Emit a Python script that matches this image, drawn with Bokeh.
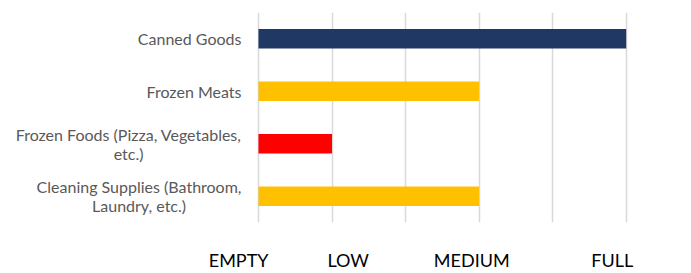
from bokeh.plotting import figure
from bokeh.models import ColumnDataSource, FactorRange, Range1d, FixedTicker, Grid
from bokeh.core.properties import value
from bokeh.embed import file_html
from bokeh.resources import INLINE

# ---- data ----
categories = [
    "Canned Goods",
    "Frozen Meats",
    "Frozen Foods (Pizza, Vegetables,\netc.)",
    "Cleaning Supplies (Bathroom,\nLaundry, etc.)",
]
levels = [5, 3, 1, 3]
bar_colors = ["#203864", "#FFC000", "#FF0000", "#FFC000"]
grid_values = [0, 1, 2, 3, 4, 5]
level_labels = ["EMPTY", "LOW", "MEDIUM", "FULL"]
level_label_pos = [-0.27, 1.22, 2.90, 4.81]

factors = list(reversed(categories))

src = ColumnDataSource(dict(cat=categories, val=levels, color=bar_colors,
                            zero=[0] * len(categories)))

p = figure(width=691, height=273, output_backend="svg", toolbar_location=None,
           y_range=FactorRange(factors=factors, range_padding=0),
           x_range=Range1d(-3.508, 5.888), y_axis_location=None,
           min_border_left=0, min_border_right=0, min_border_top=12,
           min_border_bottom=0)
p.outline_line_color = None
p.background_fill_color = "white"
p.border_fill_color = "white"

p.hbar(y="cat", left="zero", right="val", height=0.375, color="color",
       line_color=None, source=src)

# category labels (lines centred, block right-aligned next to the bars)
p.text(x="zero", y="cat", text="cat", source=src, x_offset=-17,
       anchor="center_right", text_align="center", text_baseline="middle",
       text_font=value("Lato"), text_font_size="16px", text_color="#595959",
       text_line_height=1.0)

# grid
p.xgrid.visible = False
p.ygrid.visible = False
g = Grid(dimension=0, ticker=FixedTicker(ticks=grid_values),
         grid_line_color="#d9d9d9", grid_line_width=1.5)
p.add_layout(g)

# level axis
ax = p.xaxis[0]
ax.ticker = FixedTicker(ticks=level_label_pos)
ax.major_label_overrides = {pos: lab for pos, lab in zip(level_label_pos, level_labels)}
ax.axis_line_color = None
ax.major_tick_line_color = None
ax.major_tick_out = 0
ax.major_tick_in = 0
ax.minor_tick_line_color = None
ax.major_label_text_font = "Lato"
ax.major_label_text_font_size = "18px"
ax.major_label_text_color = "#000000"
ax.major_label_standoff = 26

open("out.html", "w").write(file_html(p, INLINE))
